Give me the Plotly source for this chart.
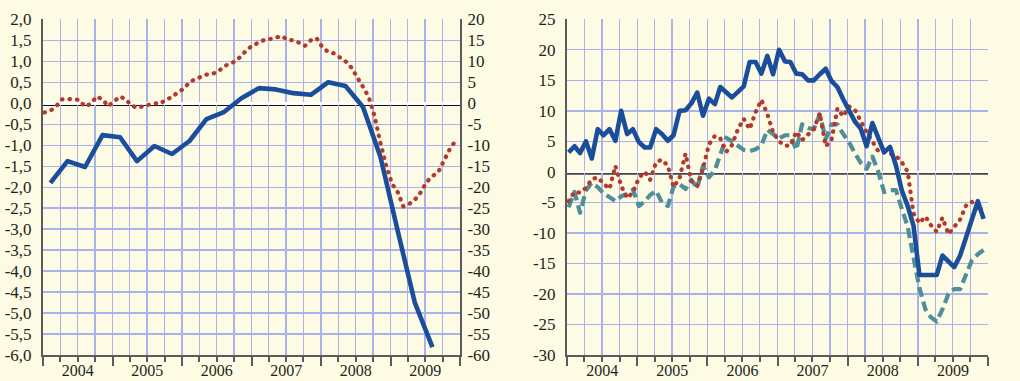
import pandas as pd
import plotly.graph_objects as go

# ---- data -------------------------------------------------------------
# quarterly series (left panel, left axis), 2004Q1 .. 2009Q3
gdp_growth = [-1.90, -1.38, -1.52, -0.76, -0.81, -1.38, -1.02, -1.21, -0.90, -0.38,
              -0.21, 0.12, 0.36, 0.33, 0.24, 0.20, 0.50, 0.41, -0.09, -1.28,
              -3.07, -4.76, -5.81]

# monthly series (left panel, right axis), Jan 2004 .. Dec 2009
left_monthly = [-2.2, -1.8, -0.8, 0.9, 1.0, 0.9, 0.8, -0.8, -0.1, 1.6,
                0.9, -0.7, 0.4, 1.6, 1.0, -0.5, -1.1, -0.8, -0.3, 0.0,
                -0.1, 0.9, 1.4, 2.6, 3.4, 5.0, 5.7, 6.3, 6.8, 7.0,
                7.5, 8.8, 9.4, 10.0, 11.3, 12.8, 13.8, 14.4, 15.1, 15.3,
                15.7, 16.0, 15.1, 15.0, 14.4, 13.7, 15.0, 15.5, 13.3, 12.2,
                11.9, 11.0, 10.0, 8.5, 6.0, 3.9, 1.4, -3.1, -9.5, -14.9,
                -19.2, -21.3, -24.6, -24.0, -23.0, -21.2, -18.8, -17.4, -16.4, -13.6,
                -10.9, -8.9]

# monthly series (right panel), Jan 2004 .. Dec 2009
right_solid = [3.2, 4.2, 3.1, 5.0, 2.2, 7.0, 6.0, 7.0, 5.1, 10.0,
               6.2, 7.0, 4.9, 4.0, 4.0, 7.0, 6.2, 5.1, 6.0, 10.0,
               10.1, 11.2, 13.0, 9.2, 12.0, 11.1, 13.9, 13.1, 12.2, 13.1,
               14.0, 18.0, 18.0, 16.1, 19.0, 16.0, 20.0, 18.1, 18.0, 16.1,
               16.0, 15.0, 15.0, 16.0, 16.9, 14.9, 13.9, 11.9, 10.2, 8.2,
               7.1, 4.2, 8.0, 5.6, 3.2, 4.1, 1.0, -3.0, -5.6, -8.8,
               -16.9, -16.9, -16.9, -16.9, -13.7, -14.7, -15.6, -13.7, -10.5, -7.4,
               -4.8, -7.7]

right_dotted = [-4.8, -3.3, -3.4, -2.6, -1.2, -0.9, -1.9, -2.8, 1.0, -2.3,
                -4.3, -3.4, -1.0, 0.0, -1.3, 1.6, 2.0, 1.0, -2.5, -1.0,
                3.0, -1.5, -2.3, 0.5, 4.5, 5.9, 5.5, 3.3, 4.4, 7.0,
                8.7, 7.0, 9.8, 11.8, 9.5, 6.5, 5.0, 4.3, 4.3, 6.6,
                5.2, 6.1, 7.0, 9.6, 4.2, 5.2, 10.4, 9.1, 10.7, 10.1,
                8.2, 6.5, 5.0, 3.4, 3.4, 3.0, 2.6, 1.6, 0.0, -6.8,
                -8.4, -7.3, -8.7, -9.8, -7.5, -10.2, -9.0, -7.8, -5.5, -4.9,
                -6.5, -5.3]

right_dashed = [-5.8, -3.3, -6.7, -3.0, -1.8, -2.5, -3.5, -4.2, -4.8, -4.0,
                -3.6, -2.9, -5.6, -4.8, -3.8, -3.1, -5.0, -5.6, -2.4, -2.0,
                -2.8, -1.3, -2.6, 1.0, -0.9, 0.3, 2.8, 5.6, 5.0, 4.2,
                3.6, 3.4, 3.7, 4.3, 6.9, 6.2, 5.5, 6.0, 6.0, 3.6,
                7.8, 7.2, 7.0, 9.4, 5.4, 7.8, 7.8, 6.2, 4.8, 3.0,
                1.5, 0.5, 2.5, 0.0, -3.3, -3.0, -3.0, -6.0, -9.0, -14.0,
                -19.0, -22.5, -23.8, -24.5, -22.5, -20.0, -19.2, -19.2, -17.0, -14.5,
                -13.5, -12.8]

# axis tick values and labels
left_y_vals = [2.0, 1.5, 1.0, 0.5, 0.0, -0.5, -1.0, -1.5, -2.0, -2.5, -3.0, -3.5,
               -4.0, -4.5, -5.0, -5.5, -6.0]
left_y_text = ["2,0", "1,5", "1,0", "0,5", "0,0", "-0,5", "-1,0", "-1,5", "-2,0",
               "-2,5", "-3,0", "-3,5", "-4,0", "-4,5", "-5,0", "-5,5", "-6,0"]
left_y2_vals = [20, 15, 10, 5, 0, -5, -10, -15, -20, -25, -30, -35, -40, -45, -50, -55, -60]
left_y2_text = ["20", "15", "10", "5", "0", "-5", "-10", "-15", "-20", "-25", "-30",
                "-35", "-40", "-45", "-50", "-55", "-60"]
right_y_vals = [25, 20, 15, 10, 5, 0, -5, -10, -15, -20, -25, -30]
right_y_text = ["25", "20", "15", "10", "5", "0", "-5", "-10", "-15", "-20", "-25", "-30"]

# ---- time positions ---------------------------------------------------
months = pd.date_range("2004-01-01", periods=72, freq="MS") + pd.Timedelta(days=8)
quarters = pd.date_range("2004-02-01", periods=len(gdp_growth), freq="3MS") + pd.Timedelta(days=8)

# ---- styling ----------------------------------------------------------
BG = "#fdfbe3"
GRID = "#a9b2ea"
AXIS = "#5a5a5a"
BLUE = "#1a4d9b"
RED = "#b3392f"
TEAL = "#4f8e9b"
FONT = dict(family="Liberation Serif", size=17, color="#231f20")
YEAR_FONT = dict(family="Liberation Serif", size=16, color="#231f20")

W, H = 1020, 381
left_dom = [43 / W, 460 / W]
right_dom = [567 / W, 988 / W]
y_dom = [1 - 355 / H, 1 - 19.3 / H]

fig = go.Figure()

fig.add_trace(go.Scatter(x=months, y=left_monthly, xaxis="x", yaxis="y2", mode="lines",
                         line=dict(color=RED, width=4.2, dash="0.5px,7px"), hoverinfo="skip"))
fig.add_trace(go.Scatter(x=quarters, y=gdp_growth, xaxis="x", yaxis="y", mode="lines",
                         line=dict(color=BLUE, width=4.6), hoverinfo="skip"))

fig.add_trace(go.Scatter(x=months, y=right_dashed, xaxis="x2", yaxis="y3", mode="lines",
                         line=dict(color=TEAL, width=4.2, dash="10px,5px"), hoverinfo="skip"))
fig.add_trace(go.Scatter(x=months, y=right_dotted, xaxis="x2", yaxis="y3", mode="lines",
                         line=dict(color=RED, width=4.2, dash="0.5px,7px"), hoverinfo="skip"))
fig.add_trace(go.Scatter(x=months, y=right_solid, xaxis="x2", yaxis="y3", mode="lines",
                         line=dict(color=BLUE, width=4.6), hoverinfo="skip"))


def x_axis(domain, anchor):
    return dict(
        domain=domain, anchor=anchor, type="date", automargin=False,
        range=["2004-01-01", "2010-01-01"],
        tick0="2004-01-01", dtick="M12", tickformat="%Y", ticklabelmode="period",
        ticks="outside", ticklen=9, tickwidth=2, tickcolor=AXIS,
        ticklabelstandoff=-9,
        showgrid=True, gridcolor=GRID, gridwidth=1.3,
        minor=dict(dtick="M3", tick0="2004-01-01", ticks="outside", ticklen=5,
                   tickwidth=2, tickcolor=AXIS, showgrid=True, gridcolor=GRID, gridwidth=1.3),
        showline=True, linecolor=AXIS, linewidth=2,
        tickfont=YEAR_FONT, zeroline=False, fixedrange=True,
    )


def y_axis(domain, anchor, rng, vals, text, side="left", overlaying=None, grid=True,
           standoff=6, zero=False):
    d = dict(
        domain=domain, anchor=anchor, range=rng, side=side, automargin=False,
        tickmode="array", tickvals=vals, ticktext=text,
        ticks="", showgrid=grid, gridcolor=GRID, gridwidth=1.3,
        showline=True, linecolor=AXIS, linewidth=2,
        zeroline=zero, zerolinecolor="white", zerolinewidth=2.6,
        tickfont=FONT, ticklabelstandoff=standoff, fixedrange=True,
    )
    if overlaying:
        d["overlaying"] = overlaying
    return d


fig.update_layout(
    width=W, height=H,
    margin=dict(l=0, r=0, t=0, b=0, autoexpand=False),
    paper_bgcolor=BG, plot_bgcolor=BG,
    showlegend=False,
    font=FONT,
    xaxis=x_axis(left_dom, "y"),
    yaxis=y_axis(y_dom, "x", [-6, 2], left_y_vals, left_y_text, standoff=6, zero=True),
    yaxis2=y_axis(y_dom, "x", [-60, 20], left_y2_vals, left_y2_text, side="right",
                  overlaying="y", grid=False, standoff=2),
    xaxis2=x_axis(right_dom, "y3"),
    yaxis3=y_axis(y_dom, "x2", [-30, 25], right_y_vals, right_y_text, standoff=6, zero=True),
    yaxis4=y_axis(y_dom, "x2", [-30, 25], right_y_vals, right_y_text, side="right",
                  overlaying="y3", grid=False, standoff=5),
    shapes=[
        # dark rule just beneath each white zero line
        dict(type="line", xref="x domain", yref="y", ysizemode="pixel", yanchor=0,
             x0=0, x1=1, y0=-2, y1=-2, line=dict(color="#111111", width=1.3), layer="below"),
        dict(type="line", xref="x2 domain", yref="y3", ysizemode="pixel", yanchor=0,
             x0=0, x1=1, y0=-2, y1=-2, line=dict(color="#444444", width=1.6), layer="below"),
    ],
)

# round dot caps for the dotted series, round joins for all lines
post = """
document.querySelectorAll('.scatterlayer .js-line').forEach(function(p){
  p.style.strokeLinejoin = 'round';
  var d = p.style.strokeDasharray || '';
  if (d && parseFloat(d) < 1) { p.style.strokeLinecap = 'round'; }
});
"""

fig.write_html("out.html", config={"displayModeBar": False, "staticPlot": True},
               post_script=post)
